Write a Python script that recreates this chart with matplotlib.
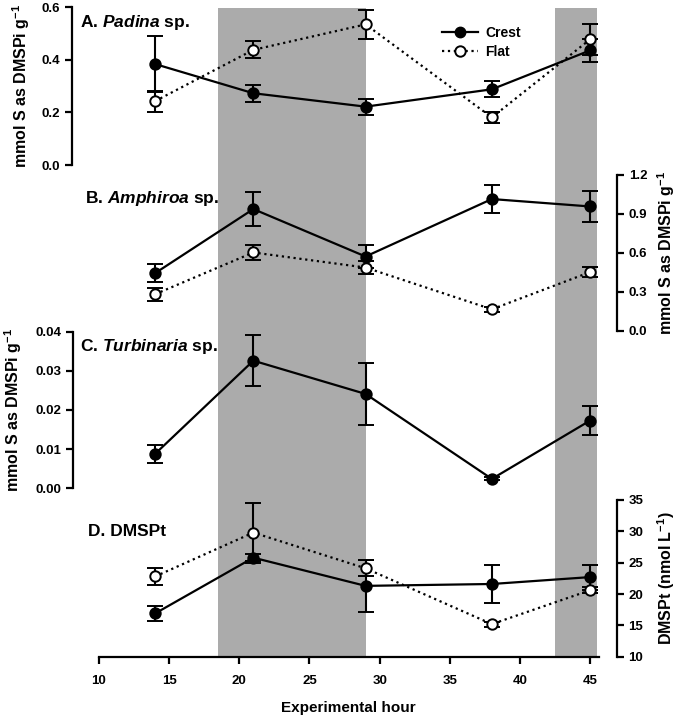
import matplotlib
matplotlib.use("Agg")
import matplotlib.pyplot as plt
from matplotlib.lines import Line2D

plt.rcParams['font.family'] = ['Liberation Sans', 'DejaVu Sans']
plt.rcParams['font.weight'] = 'bold'
plt.rcParams['mathtext.fontset'] = 'custom'
plt.rcParams['mathtext.rm'] = 'Liberation Sans:bold'
plt.rcParams['mathtext.it'] = 'Liberation Sans:italic:bold'
plt.rcParams['mathtext.bf'] = 'Liberation Sans:bold'

# data
hours = [14, 21, 29, 38, 45]
dark_periods = [(18.5, 29), (42.5, 45.5)]

padina_crest = [0.384, 0.273, 0.222, 0.288, 0.436]
padina_crest_err = [0.105, 0.032, 0.03, 0.03, 0.045]
padina_flat = [0.243, 0.438, 0.535, 0.181, 0.478]
padina_flat_err = [0.04, 0.032, 0.055, 0.02, 0.06]

amphiroa_crest = [0.445, 0.938, 0.573, 1.015, 0.958]
amphiroa_crest_err = [0.07, 0.13, 0.09, 0.11, 0.12]
amphiroa_flat = [0.283, 0.604, 0.488, 0.167, 0.453]
amphiroa_flat_err = [0.05, 0.055, 0.05, 0.02, 0.04]

turbinaria_crest = [0.0088, 0.0326, 0.0241, 0.0024, 0.0173]
turbinaria_crest_err = [0.0023, 0.0065, 0.008, 0.0004, 0.0037]

dmspt_crest = [16.9, 25.8, 21.3, 21.6, 22.7]
dmspt_crest_err = [1.2, 0.6, 4.2, 3.0, 2.0]
dmspt_flat = [22.8, 29.8, 24.1, 15.2, 20.6]
dmspt_flat_err = [1.3, 4.8, 1.3, 0.4, 0.5]

W, H = 680, 718
fig = plt.figure(figsize=(W / 100, H / 100), dpi=100)


def box(x0, y0, x1, y1):
    return [x0 / W, 1 - y1 / H, (x1 - x0) / W, (y1 - y0) / H]


X0, X1 = 99, 598.5
XLIM = (10, 45.6)

main = fig.add_axes(box(X0, 8, X1, 656.7))
main.set_xlim(*XLIM)
main.set_ylim(0, 1)
for a, b in dark_periods:
    main.axvspan(a, b, color='#ababab', lw=0)
for s in ['left', 'right', 'top']:
    main.spines[s].set_visible(False)
main.spines['bottom'].set_linewidth(1.6)
main.set_yticks([])
main.set_xticks(range(10, 46, 5))
main.tick_params(axis='x', direction='out', length=5, width=1.6, labelsize=9.5, pad=8)
main.set_xlabel('Experimental hour', fontsize=11, fontweight='bold', labelpad=10)


def panel(y0, y1, ylim, yticks, side, outward, fmt):
    ax = fig.add_axes(box(X0, y0, X1, y1))
    ax.patch.set_alpha(0)
    ax.set_xlim(*XLIM)
    ax.set_ylim(*ylim)
    for s in ['left', 'right', 'top', 'bottom']:
        ax.spines[s].set_visible(s == side)
    ax.spines[side].set_position(('outward', outward * 72 / 100))
    ax.spines[side].set_linewidth(1.6)
    ax.set_xticks([])
    ax.set_yticks(yticks)
    ax.set_yticklabels([fmt.format(t) for t in yticks])
    if side == 'right':
        ax.yaxis.tick_right()
    ax.tick_params(axis='y', direction='out', length=5, width=1.6, labelsize=9.5)
    return ax


def series(ax, y, err, filled, ls):
    ax.errorbar(hours, y, yerr=err, color='black', lw=1.6, ls=ls,
                marker='o', ms=7.5, mfc='black' if filled else 'white',
                mec='black', mew=1.4, capsize=6, capthick=1.5, elinewidth=1.5,
                clip_on=False, zorder=3)


axA = panel(7.3, 165, (0, 0.6), [0, 0.2, 0.4, 0.6], 'left', 27, '{:.1f}')
series(axA, padina_flat, padina_flat_err, False, ':')
series(axA, padina_crest, padina_crest_err, True, '-')

axB = panel(175, 331, (0, 1.2), [0, 0.3, 0.6, 0.9, 1.2], 'right', 18.5, '{:.1f}')
series(axB, amphiroa_flat, amphiroa_flat_err, False, ':')
series(axB, amphiroa_crest, amphiroa_crest_err, True, '-')

axC = panel(331.7, 488.3, (0, 0.04), [0, 0.01, 0.02, 0.03, 0.04], 'left', 26, '{:.2f}')
series(axC, turbinaria_crest, turbinaria_crest_err, True, '-')

axD = panel(500, 656.7, (10, 35), [10, 15, 20, 25, 30, 35], 'right', 18, '{:d}')
series(axD, dmspt_flat, dmspt_flat_err, False, ':')
series(axD, dmspt_crest, dmspt_crest_err, True, '-')

# panel titles
tkw = dict(fontsize=12.5, fontweight='bold', va='center', ha='left')
fig.text(80 / W, 1 - 23 / H, r'A. $\mathit{Padina}$ sp.', **tkw)
fig.text(85 / W, 1 - 199 / H, r'B. $\mathit{Amphiroa}$ sp.', **tkw)
fig.text(80 / W, 1 - 346 / H, r'C. $\mathit{Turbinaria}$ sp.', **tkw)
fig.text(88 / W, 1 - 531 / H, 'D. DMSPt', **tkw)

# axis labels
lkw = dict(fontsize=11.5, fontweight='bold', rotation=90, va='center', ha='center')
ylab = r'mmol S as DMSPi g$^{-1}$'
fig.text(21 / W, 1 - 86 / H, ylab, **lkw)
fig.text(13 / W, 1 - 410 / H, ylab, **lkw)
fig.text(666 / W, 1 - 253 / H, ylab, **lkw)
fig.text(666 / W, 1 - 578 / H, r'DMSPt (nmol L$^{-1}$)', **lkw)

# legend
handles = [
    Line2D([], [], color='black', lw=1.6, ls='-', marker='o', ms=7.5, mfc='black', mec='black'),
    Line2D([], [], color='black', lw=1.6, ls=':', marker='o', ms=7.5, mfc='white', mec='black', mew=1.4),
]
fig.legend(handles, ['Crest', 'Flat'], loc='upper left', bbox_to_anchor=(442 / W, 1 - 26 / H),
           frameon=False, fontsize=10, handlelength=2.6, handletextpad=0.5,
           labelspacing=0.35, borderpad=0, borderaxespad=0)

fig.savefig('out.png', dpi=100)
